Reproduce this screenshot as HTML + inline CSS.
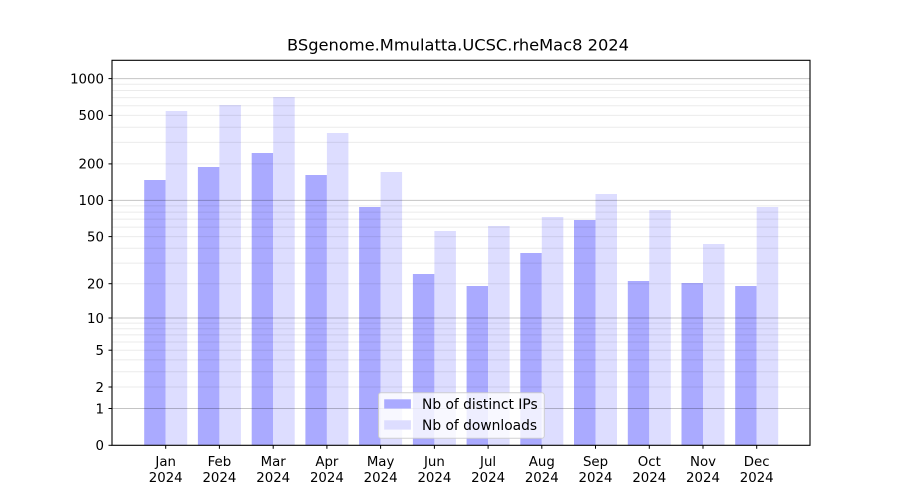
<!DOCTYPE html>
<html><head><meta charset="utf-8"><style>
html,body{margin:0;padding:0;background:#fff;}
svg{display:block;}
text{font-family:"DejaVu Sans","Liberation Sans",sans-serif;fill:#000;}
</style></head><body>
<svg width="900" height="500" viewBox="0 0 900 500" xmlns="http://www.w3.org/2000/svg">
<rect x="0" y="0" width="900" height="500" fill="#fff"/>
<!-- bars -->
<g>
<rect x="144.2" y="180" width="21.5" height="265.3" fill="#aaaaff"/><rect x="165.7" y="111" width="21.5" height="334.3" fill="#ddddff"/>
<rect x="197.9" y="167" width="21.5" height="278.3" fill="#aaaaff"/><rect x="219.4" y="105" width="21.5" height="340.3" fill="#ddddff"/>
<rect x="251.7" y="153" width="21.5" height="292.3" fill="#aaaaff"/><rect x="273.2" y="97" width="21.5" height="348.3" fill="#ddddff"/>
<rect x="305.4" y="175" width="21.5" height="270.3" fill="#aaaaff"/><rect x="326.9" y="133" width="21.5" height="312.3" fill="#ddddff"/>
<rect x="359.1" y="207" width="21.5" height="238.3" fill="#aaaaff"/><rect x="380.6" y="172" width="21.5" height="273.3" fill="#ddddff"/>
<rect x="412.9" y="274" width="21.5" height="171.3" fill="#aaaaff"/><rect x="434.4" y="231" width="21.5" height="214.3" fill="#ddddff"/>
<rect x="466.6" y="286" width="21.5" height="159.3" fill="#aaaaff"/><rect x="488.1" y="226" width="21.5" height="219.3" fill="#ddddff"/>
<rect x="520.3" y="253" width="21.5" height="192.3" fill="#aaaaff"/><rect x="541.8" y="217" width="21.5" height="228.3" fill="#ddddff"/>
<rect x="574.0" y="220" width="21.5" height="225.3" fill="#aaaaff"/><rect x="595.5" y="194" width="21.5" height="251.3" fill="#ddddff"/>
<rect x="627.8" y="281" width="21.5" height="164.3" fill="#aaaaff"/><rect x="649.3" y="210" width="21.5" height="235.3" fill="#ddddff"/>
<rect x="681.5" y="283" width="21.5" height="162.3" fill="#aaaaff"/><rect x="703.0" y="244" width="21.5" height="201.3" fill="#ddddff"/>
<rect x="735.2" y="286" width="21.5" height="159.3" fill="#aaaaff"/><rect x="756.7" y="207" width="21.5" height="238.3" fill="#ddddff"/>
</g>
<!-- minor grid -->
<g stroke="#000" stroke-opacity="0.08" stroke-width="1">
<line x1="112" x2="810" y1="387.0" y2="387.0"/>
<line x1="112" x2="810" y1="371.7" y2="371.7"/>
<line x1="112" x2="810" y1="359.9" y2="359.9"/>
<line x1="112" x2="810" y1="350.2" y2="350.2"/>
<line x1="112" x2="810" y1="342.0" y2="342.0"/>
<line x1="112" x2="810" y1="334.9" y2="334.9"/>
<line x1="112" x2="810" y1="328.7" y2="328.7"/>
<line x1="112" x2="810" y1="323.1" y2="323.1"/>
<line x1="112" x2="810" y1="283.7" y2="283.7"/>
<line x1="112" x2="810" y1="263.1" y2="263.1"/>
<line x1="112" x2="810" y1="248.2" y2="248.2"/>
<line x1="112" x2="810" y1="236.6" y2="236.6"/>
<line x1="112" x2="810" y1="227.1" y2="227.1"/>
<line x1="112" x2="810" y1="219.1" y2="219.1"/>
<line x1="112" x2="810" y1="212.1" y2="212.1"/>
<line x1="112" x2="810" y1="205.9" y2="205.9"/>
<line x1="112" x2="810" y1="163.9" y2="163.9"/>
<line x1="112" x2="810" y1="142.4" y2="142.4"/>
<line x1="112" x2="810" y1="127.2" y2="127.2"/>
<line x1="112" x2="810" y1="115.4" y2="115.4"/>
<line x1="112" x2="810" y1="105.7" y2="105.7"/>
<line x1="112" x2="810" y1="97.6" y2="97.6"/>
<line x1="112" x2="810" y1="90.5" y2="90.5"/>
<line x1="112" x2="810" y1="84.2" y2="84.2"/>
</g>
<!-- major grid -->
<g stroke="#000" stroke-opacity="0.23" stroke-width="1">
<line x1="112" x2="810" y1="408.5" y2="408.5"/>
<line x1="112" x2="810" y1="318.0" y2="318.0"/>
<line x1="112" x2="810" y1="200.4" y2="200.4"/>
<line x1="112" x2="810" y1="78.6" y2="78.6"/>
</g>
<!-- frame -->
<rect x="112" y="60.3" width="698" height="385" fill="none" stroke="#000" stroke-width="1.1"/>
<!-- y ticks -->
<g stroke="#000" stroke-width="1">
<line x1="108.5" x2="112" y1="445.3" y2="445.3"/>
<line x1="108.5" x2="112" y1="408.5" y2="408.5"/>
<line x1="108.5" x2="112" y1="387.0" y2="387.0"/>
<line x1="108.5" x2="112" y1="350.2" y2="350.2"/>
<line x1="108.5" x2="112" y1="318.0" y2="318.0"/>
<line x1="108.5" x2="112" y1="283.7" y2="283.7"/>
<line x1="108.5" x2="112" y1="236.6" y2="236.6"/>
<line x1="108.5" x2="112" y1="200.4" y2="200.4"/>
<line x1="108.5" x2="112" y1="163.9" y2="163.9"/>
<line x1="108.5" x2="112" y1="115.4" y2="115.4"/>
<line x1="108.5" x2="112" y1="78.6" y2="78.6"/>
</g>
<g font-size="13.33" text-anchor="end">
<text x="104" y="450.1">0</text>
<text x="104" y="413.3">1</text>
<text x="104" y="391.8">2</text>
<text x="104" y="355.0">5</text>
<text x="104" y="322.8">10</text>
<text x="104" y="288.5">20</text>
<text x="104" y="241.4">50</text>
<text x="104" y="205.2">100</text>
<text x="104" y="168.7">200</text>
<text x="104" y="120.2">500</text>
<text x="104" y="83.4">1000</text>
</g>
<!-- x ticks -->
<g stroke="#000" stroke-width="1">
<line x1="165.7" x2="165.7" y1="445.3" y2="448.8"/>
<line x1="219.4" x2="219.4" y1="445.3" y2="448.8"/>
<line x1="273.2" x2="273.2" y1="445.3" y2="448.8"/>
<line x1="326.9" x2="326.9" y1="445.3" y2="448.8"/>
<line x1="380.6" x2="380.6" y1="445.3" y2="448.8"/>
<line x1="434.4" x2="434.4" y1="445.3" y2="448.8"/>
<line x1="488.1" x2="488.1" y1="445.3" y2="448.8"/>
<line x1="541.8" x2="541.8" y1="445.3" y2="448.8"/>
<line x1="595.5" x2="595.5" y1="445.3" y2="448.8"/>
<line x1="649.3" x2="649.3" y1="445.3" y2="448.8"/>
<line x1="703.0" x2="703.0" y1="445.3" y2="448.8"/>
<line x1="756.7" x2="756.7" y1="445.3" y2="448.8"/>
</g>
<g font-size="13.33" text-anchor="middle">
<text x="165.7" y="466">Jan</text><text x="165.7" y="482">2024</text>
<text x="219.4" y="466">Feb</text><text x="219.4" y="482">2024</text>
<text x="273.2" y="466">Mar</text><text x="273.2" y="482">2024</text>
<text x="326.9" y="466">Apr</text><text x="326.9" y="482">2024</text>
<text x="380.6" y="466">May</text><text x="380.6" y="482">2024</text>
<text x="434.4" y="466">Jun</text><text x="434.4" y="482">2024</text>
<text x="488.1" y="466">Jul</text><text x="488.1" y="482">2024</text>
<text x="541.8" y="466">Aug</text><text x="541.8" y="482">2024</text>
<text x="595.5" y="466">Sep</text><text x="595.5" y="482">2024</text>
<text x="649.3" y="466">Oct</text><text x="649.3" y="482">2024</text>
<text x="703.0" y="466">Nov</text><text x="703.0" y="482">2024</text>
<text x="756.7" y="466">Dec</text><text x="756.7" y="482">2024</text>
</g>
<!-- title -->
<text x="287" y="50.5" font-size="16.3" textLength="342" lengthAdjust="spacingAndGlyphs">BSgenome.Mmulatta.UCSC.rheMac8 2024</text>
<!-- legend -->
<rect x="378.5" y="392.7" width="165.8" height="45.6" rx="2.5" fill="#fff" fill-opacity="0.8" stroke="#cccccc" stroke-opacity="0.9" stroke-width="1"/>
<rect x="384.2" y="399.3" width="26.7" height="9.3" fill="#aaaaff"/>
<rect x="384.2" y="420.3" width="26.7" height="9.3" fill="#ddddff"/>
<g font-size="13.8">
<text x="422" y="409.2">Nb of distinct IPs</text>
<text x="422" y="430.2">Nb of downloads</text>
</g>
</svg>
</body></html>
